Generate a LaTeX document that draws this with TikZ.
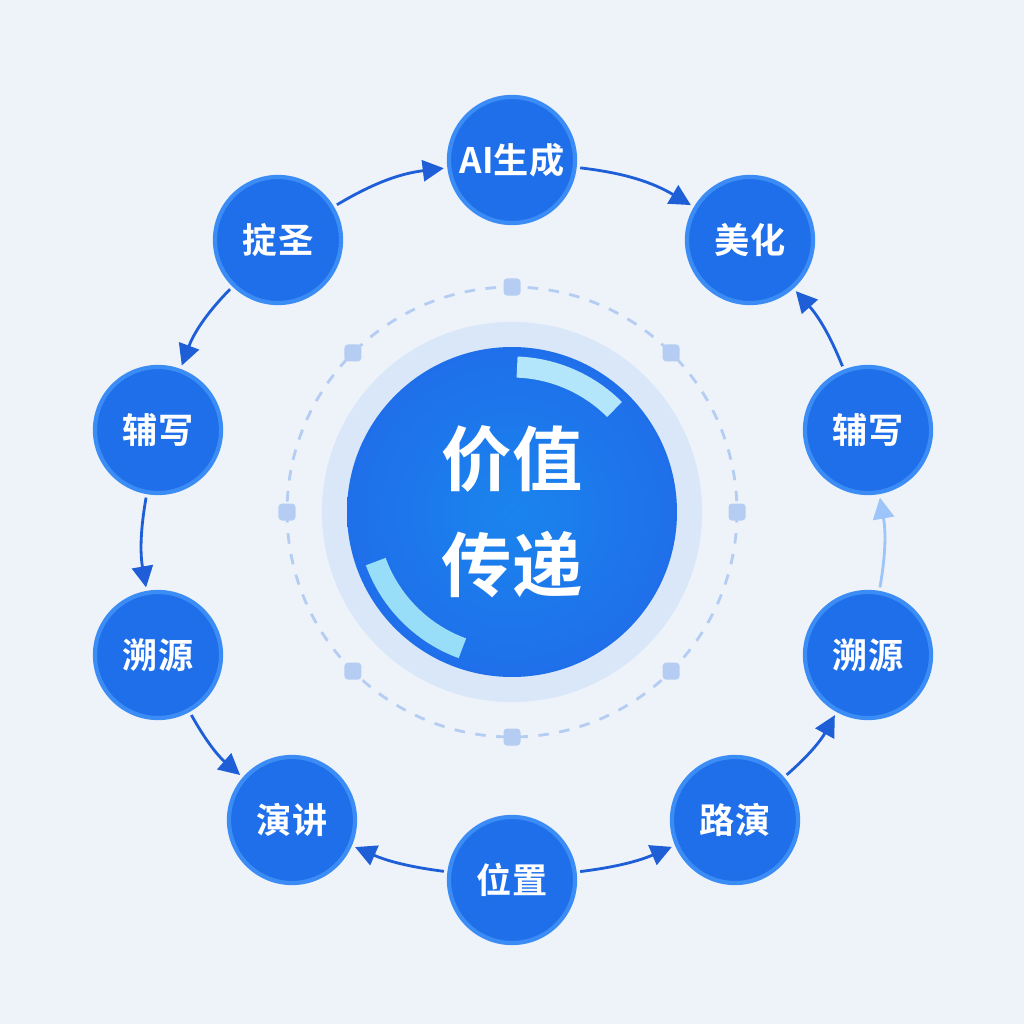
\documentclass[tikz,border=0pt]{standalone}
\usepackage{fontspec}
\setmainfont{Noto Sans CJK SC}
\newfontfamily\cjkbold{Noto Sans CJK SC Bold}
\usetikzlibrary{arrows.meta,calc}
\definecolor{bgblue}{HTML}{EEF3FA}
\definecolor{nodeblue}{HTML}{1F6FEA}
\definecolor{nodeedge}{HTML}{3C8CF5}
\definecolor{arrowblue}{HTML}{1E5FD8}
\definecolor{haloblue}{HTML}{C9DDF7}
\definecolor{tickblue}{HTML}{B5CDF2}
\tikzset{
  stepnode/.style={circle, minimum size=1.26cm, inner sep=0pt, fill=nodeblue,
    draw=nodeedge, line width=1.2pt, text=white, font=\cjkbold\fontsize{10}{12}\selectfont},
  flow/.style={-{Triangle[length=6pt,width=6pt]}, thick, draw=arrowblue, shorten <=1pt, shorten >=1pt},
  tick/.style={rectangle, rounded corners=1pt, minimum size=0.17cm, inner sep=0pt, fill=tickblue}
}
\begin{document}
\begin{tikzpicture}[x=0.01cm, y=-0.01cm]
  \fill[bgblue] (0,0) rectangle (1024,1024);
  % centre
  \node[circle, minimum size=3.8cm, fill=haloblue!70] (halo) at (512,512) {};
  \draw[tickblue, dashed, thick] (512,512) circle[radius=225];
  \foreach \a in {90,45,0,-45,-90,-135,180,135}
    \node[tick] at ($(512,512)+(\a:225)$) {};
  \shade[inner color=nodeblue!85!cyan, outer color=nodeblue] (512,512) circle[radius=165];
  \draw[white!70!cyan, line width=6pt] (512,512) ++(-88:145) arc[start angle=-88, end angle=-45, radius=145];
  \draw[white!60!cyan, line width=6pt] (512,512) ++(160:145) arc[start angle=160, end angle=110, radius=145];
  \node[text=white, font=\cjkbold\fontsize{20}{30}\selectfont, align=center] (centre) at (512,512) {价值\\传递};
  % ring
  \node[stepnode] (aigen) at (512,160) {AI生成};
  \node[stepnode] (beauty) at (750,240) {美化};
  \node[stepnode] (assistR) at (868,430) {辅写};
  \node[stepnode] (traceR) at (868,655) {溯源};
  \node[stepnode] (roadshow) at (735,820) {路演};
  \node[stepnode] (place) at (512,880) {位置};
  \node[stepnode] (speech) at (292,820) {演讲};
  \node[stepnode] (traceL) at (158,655) {溯源};
  \node[stepnode] (assistL) at (158,430) {辅写};
  \node[stepnode] (draft) at (278,240) {掟圣};

  \draw[flow] (draft) to[bend left=12] (aigen);
  \draw[flow] (aigen) to[bend left=12] (beauty);
  \draw[flow] (draft) to[bend right=12] (assistL);
  \draw[flow] (assistL) to[bend right=10] (traceL);
  \draw[flow] (traceL) to[bend right=10] (speech);
  \draw[flow] (place) to[bend left=8] (speech);
  \draw[flow] (place) to[bend right=8] (roadshow);
  \draw[flow] (roadshow) to[bend right=10] (traceR);
  \draw[flow, draw=nodeedge!50] (traceR) to[bend right=10] (assistR);
  \draw[flow] (assistR) to[bend right=10] (beauty);
\end{tikzpicture}
\end{document}
